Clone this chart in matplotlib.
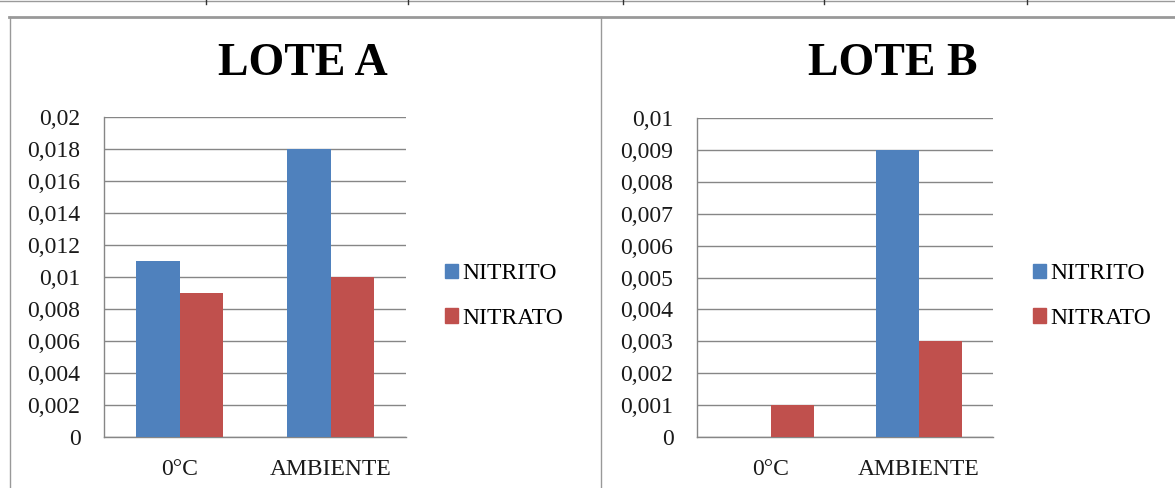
import numpy as np
import matplotlib
matplotlib.use("Agg")
import matplotlib.pyplot as plt
from matplotlib.lines import Line2D
from matplotlib.patches import Patch
from matplotlib.ticker import FuncFormatter, MultipleLocator

plt.rcParams['font.family'] = ['Liberation Serif', 'DejaVu Serif']

# data
categories = ['0°C', 'AMBIENTE']
series_names = ['NITRITO', 'NITRATO']
lote_a_nitrito = [0.011, 0.018]
lote_a_nitrato = [0.009, 0.010]
lote_b_nitrito = [0.0, 0.009]
lote_b_nitrato = [0.001, 0.003]

BLUE = '#4F81BD'
RED = '#C0504D'
GRID = '#868686'
W, H = 1175, 488


def fx(px):
    return px / W


def fy(py):
    return 1 - py / H


def comma_fmt(v, pos):
    s = f"{round(v, 6):.3f}".rstrip('0').rstrip('.')
    return s.replace('.', ',')


def draw_panel(ax, nitrito, nitrato, ymax, step):
    x = np.arange(len(categories))
    bw = 0.29
    ax.bar(x - bw / 2, nitrito, bw, color=BLUE, zorder=3)
    ax.bar(x + bw / 2, nitrato, bw, color=RED, zorder=3)
    ax.set_xlim(-0.5, len(categories) - 0.5)
    ax.set_ylim(0, ymax)
    ax.yaxis.set_major_locator(MultipleLocator(step))
    ax.yaxis.set_major_formatter(FuncFormatter(comma_fmt))
    ax.set_xticks(x)
    ax.set_xticklabels(categories)
    ax.grid(axis='y', color=GRID, linewidth=1, zorder=0)
    ax.set_axisbelow(True)
    for side in ['top', 'right']:
        ax.spines[side].set_visible(False)
    for side in ['left', 'bottom']:
        ax.spines[side].set_color(GRID)
        ax.spines[side].set_linewidth(1)
    ax.tick_params(axis='both', length=0, labelsize=17, colors='#1a1a1a')
    ax.tick_params(axis='y', pad=17)
    ax.tick_params(axis='x', pad=16)


fig = plt.figure(figsize=(W / 100, H / 100), dpi=100)

ax_a = fig.add_axes([fx(104), fy(437), fx(406) - fx(104), fy(117) - fy(437)])
draw_panel(ax_a, lote_a_nitrito, lote_a_nitrato, 0.02, 0.002)

ax_b = fig.add_axes([fx(697), fy(437), fx(993) - fx(697), fy(118) - fy(437)])
draw_panel(ax_b, lote_b_nitrito, lote_b_nitrato, 0.01, 0.001)

# titles
fig.text(fx(303), fy(64), 'LOTE A', ha='center', va='center',
         fontsize=33, fontweight='bold')
fig.text(fx(893), fy(64), 'LOTE B', ha='center', va='center',
         fontsize=33, fontweight='bold')

# legends
handles = [Patch(color=BLUE, label=series_names[0]),
           Patch(color=RED, label=series_names[1])]
for lx in [445, 1033]:
    fig.legend(handles=handles, loc='center left',
               bbox_to_anchor=(fx(lx), fy(296)), frameon=False,
               fontsize=17, handlelength=0.55, handleheight=0.55,
               handletextpad=0.2, labelspacing=1.0, borderpad=0,
               borderaxespad=0)

# page frame lines
fig.add_artist(Line2D([0, 1], [fy(0.5), fy(0.5)], color='#9a9a9a', lw=1))
for tx in [206, 408, 623, 824, 1027]:
    fig.add_artist(Line2D([fx(tx), fx(tx)], [fy(0), fy(4)], color='#333333', lw=1))
fig.add_artist(Line2D([fx(9), 1], [fy(17), fy(17)], color='#999999', lw=2))
fig.add_artist(Line2D([fx(9.5), fx(9.5)], [fy(17), 0], color='#999999', lw=1))
fig.add_artist(Line2D([fx(601), fx(601)], [fy(17), 0], color='#999999', lw=1))

fig.savefig('out.png', dpi=100)
